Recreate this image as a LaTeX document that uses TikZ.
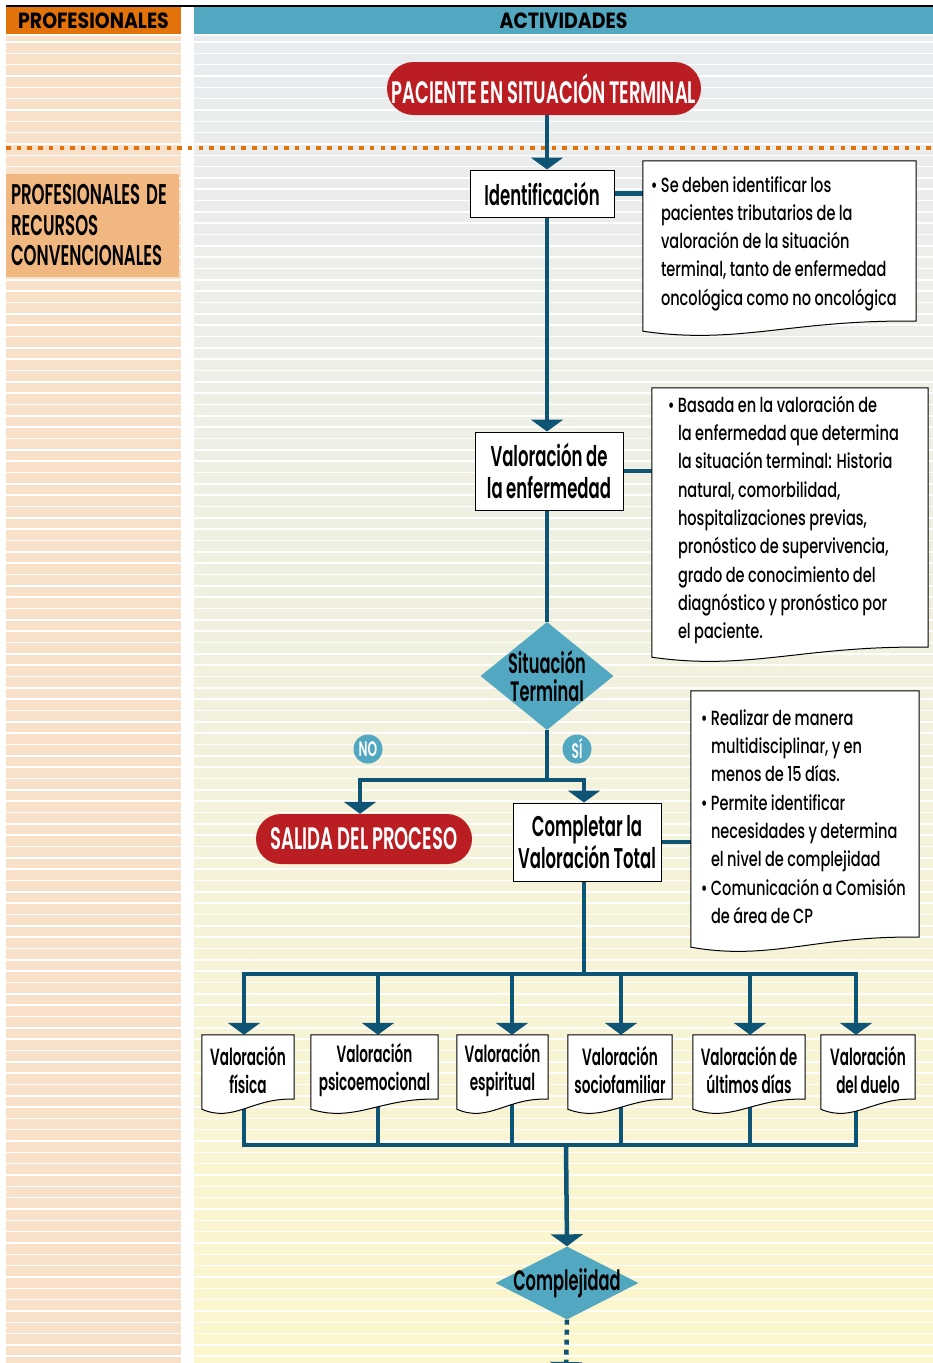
\documentclass[tikz,border=0pt]{standalone}
\usepackage{fontspec}
\setmainfont{Poppins}[FakeStretch=0.58,WordSpace=0.9,UprightFont=* SemiBold]
\newfontfamily\fuentenota{Poppins}[FakeStretch=0.71,WordSpace=0.9,UprightFont=* Medium]
\newfontfamily\fuentecab{Poppins}[FakeStretch=0.86,UprightFont=* Bold]
\usetikzlibrary{arrows.meta,shapes.geometric,calc}
\definecolor{rojo}{HTML}{BA1E23}
\definecolor{celeste}{HTML}{52A7C1}
\definecolor{petroleo}{HTML}{0E5475}
\definecolor{naranja}{HTML}{E2720A}
\definecolor{salmon}{HTML}{F0B780}
\definecolor{melocoton}{HTML}{F9E0C8}
\definecolor{grisazul}{HTML}{E8ECEF}
\definecolor{crema}{HTML}{F2F0DD}
\definecolor{amarillo}{HTML}{FCF6CC}
\pgfdeclarelayer{fondo}
\pgfdeclarelayer{lineas}
\pgfdeclarelayer{hojas}
\pgfsetlayers{fondo,lineas,hojas,main}
\tikzset{
  linea/.style={draw=petroleo,line width=4.5pt},
  conector/.style={linea,-{Triangle[width=32pt,length=12pt]}},
  cabecera/.style={inner sep=0pt,minimum height=27pt,font=\fuentecab\fontsize{22}{22}\selectfont},
  caja/.style={draw,fill=white,line width=1pt,align=center,inner sep=0pt,font=\fontsize{28.5}{31.5}\selectfont},
  hoja/.style={align=center,inner sep=0pt,minimum height=69pt,font=\fontsize{23.5}{28}\selectfont},
  nota/.style={inner sep=0pt},
  textonota/.style={align=left,inner sep=0pt,anchor=west,font=\fuentenota\fontsize{20.5}{28.3}\selectfont},
  pastilla/.style={fill=rojo,text=white,inner sep=0pt,font=\fontsize{31}{31}\selectfont},
  rombo/.style={diamond,fill=celeste,inner sep=0pt},
  textorombo/.style={align=center,inner sep=0pt,font=\fontsize{28}{28.5}\selectfont},
  sino/.style={circle,fill=celeste,text=white,minimum size=29pt,inner sep=0pt,font=\fontsize{21}{21}\selectfont},
}
\begin{document}
\begin{tikzpicture}[x=1pt,y=-1pt]
\useasboundingbox (0,0) rectangle (933,1363);
\begin{pgfonlayer}{fondo}
\fill[melocoton] (6,36) rectangle (181,1363);
\shade[top color=grisazul,middle color=crema,bottom color=amarillo] (194,36) rectangle (933,1363);
\foreach \y in {42,53.33,...,1363} \draw[white,line width=1.6pt] (6,\y) -- (933,\y);
\draw[line width=2pt] (6,5.5) -- (933,5.5);
\draw[naranja,line width=4pt,dash pattern=on 4.5pt off 6.2pt] (6,148) -- (933,148);
\end{pgfonlayer}
\node[cabecera,fill=naranja,minimum width=175pt] (prof) at (93.5,20.5) {PROFESIONALES};
\node[cabecera,fill=celeste,minimum width=739pt] (act) at (563.5,20.5) {ACTIVIDADES};
\node[fill=salmon,minimum width=173pt,minimum height=103pt,text width=163pt,inner xsep=5pt,inner ysep=0pt,align=left,
  font=\fontsize{28.5}{30.5}\selectfont] (conv) at (92.5,225.5) {PROFESIONALES\hspace{6pt}DE\\RECURSOS\\CONVENCIONALES};
% flujo principal
\node[pastilla,minimum width=314pt,minimum height=53pt,rounded corners=26.5pt] (pac) at (544,88.5) {PACIENTE EN SITUACIÓN TERMINAL};
\node[caja,minimum width=144pt,minimum height=47pt] (ident) at (542,193.5) {Identificación};
\node[caja,minimum width=148pt,minimum height=78pt] (valenf) at (549,471) {Valoración de\\la enfermedad};
\node[rombo,minimum width=133pt,minimum height=108pt] (sit) at (547,676) {};
\node[textorombo] (sittxt) at (sit) {Situación\\Terminal};
\node[sino] (no) at (368,749) {NO};
\node[sino] (si) at (577,749) {SÍ};
\node[pastilla,minimum width=216pt,minimum height=50pt,rounded corners=25pt] (salida) at (364,839) {SALIDA DEL PROCESO};
\node[caja,minimum width=148pt,minimum height=78pt] (comp) at (587,842) {Completar la\\Valoración Total};
\node[rombo,minimum width=143pt,minimum height=73pt] (compl) at (567,1283) {};
\node[textorombo] (compltxt) at (compl) {Complejidad};
% notas
\node[nota,minimum width=273pt,minimum height=165pt] (nota1) at (779.5,243.5) {};
\node[textonota] (texto1) at ([xshift=18pt]nota1.west) {\llap{• }Se deben identificar los\\pacientes tributarios de la\\valoración de la situación\\terminal, tanto de enfermedad\\oncológica como no oncológica};
\node[nota,minimum width=276pt,minimum height=264pt] (nota2) at (790,520) {};
\node[textonota] (texto2) at ([xshift=26pt]nota2.west) {\llap{• }Basada en la valoración de\\la enfermedad que determina\\la situación terminal: Historia\\natural, comorbilidad,\\hospitalizaciones previas,\\pronóstico de supervivencia,\\grado de conocimiento del\\diagnóstico y pronóstico por\\el paciente.};
\node[nota,minimum width=228pt,minimum height=251pt] (nota3) at (805,816.5) {};
\node[textonota] (texto3) at ([xshift=20pt]nota3.west) {\llap{• }Realizar de manera\\multidisciplinar, y en\\menos de 15 días.\\\llap{• }Permite identificar\\necesidades y determina\\el nivel de complejidad\\\llap{• }Comunicación a Comisión\\de área de CP};
% valoraciones
\node[hoja,minimum width=92pt] (fis) at (248,1069.5) {Valoración\\física};
\node[hoja,minimum width=127pt] (psi) at (374.5,1069.5) {Valoración\\psicoemocional};
\node[hoja,minimum width=91pt] (esp) at (502.5,1069.5) {Valoración\\espiritual};
\node[hoja,minimum width=104pt] (soc) at (620,1069.5) {Valoración\\sociofamiliar};
\node[hoja,minimum width=112pt] (ult) at (749,1069.5) {Valoración de\\últimos días};
\node[hoja,minimum width=94pt] (due) at (868,1069.5) {Valoración\\del duelo};
\begin{pgfonlayer}{hojas}
\foreach \nom in {nota1,nota2,nota3,fis,psi,esp,soc,ult,due}
  \draw[fill=white,line width=1pt] let \p1=(\nom.north west), \p2=(\nom.south east) in
    (\x1,\y1) -- (\x2,\y1) -- ({\x2},{\y2+5pt})
    .. controls ({\x2-0.45*(\x2-\x1)},{\y2+7pt}) and ({\x1+0.35*(\x2-\x1)},{\y2-19pt}) .. ({\x1},{\y2-5pt}) -- cycle;
\end{pgfonlayer}
\begin{pgfonlayer}{lineas}
\draw[conector] (pac.south -| sit.north) -- (ident.north -| sit.north);
\draw[linea] (ident.east) -- (ident.east -| nota1.west);
\draw[conector] (ident.south -| sit.north) -- (valenf.north -| sit.north);
\draw[linea] (valenf.east) -- (valenf.east -| nota2.west);
\draw[linea] (valenf.south -| sit.north) -- (sit.north);
\coordinate (bif) at (547,780);
\draw[conector] (sit.south) -- (bif) -| ([xshift=-4pt]salida.north);
\draw[conector] (bif) -| ([xshift=-3pt]comp.north);
\draw[linea] (comp.east) -- (comp.east -| nota3.west);
\coordinate (dist) at (584,974);
\draw[linea] ([xshift=-3pt]comp.south) -- (dist);
\draw[conector] (dist -| 856,0) -| (fis.north -| 244,0);
\draw[conector] (dist -| 244,0) -| (due.north -| 856,0);
\foreach \nom/\x in {psi/378,esp/512,soc/621,ult/750}
  \draw[conector] (dist -| \x,0) -- (\nom.north -| \x,0);
\coordinate (reco) at (566,1145);
\draw[linea] (fis.south -| 244,0) |- (reco);
\draw[linea] (due.south -| 856,0) |- (reco);
\foreach \nom/\x in {psi/378,esp/512,soc/621,ult/750}
  \draw[linea] (\nom.south -| \x,0) -- (reco -| \x,0);
\draw[conector] (reco) -- (compl.north);
\coordinate (sigue) at (566,1374);
\draw[conector,dash pattern=on 5pt off 5pt] (compl.south) -- (sigue);
\end{pgfonlayer}
\end{tikzpicture}
\end{document}
